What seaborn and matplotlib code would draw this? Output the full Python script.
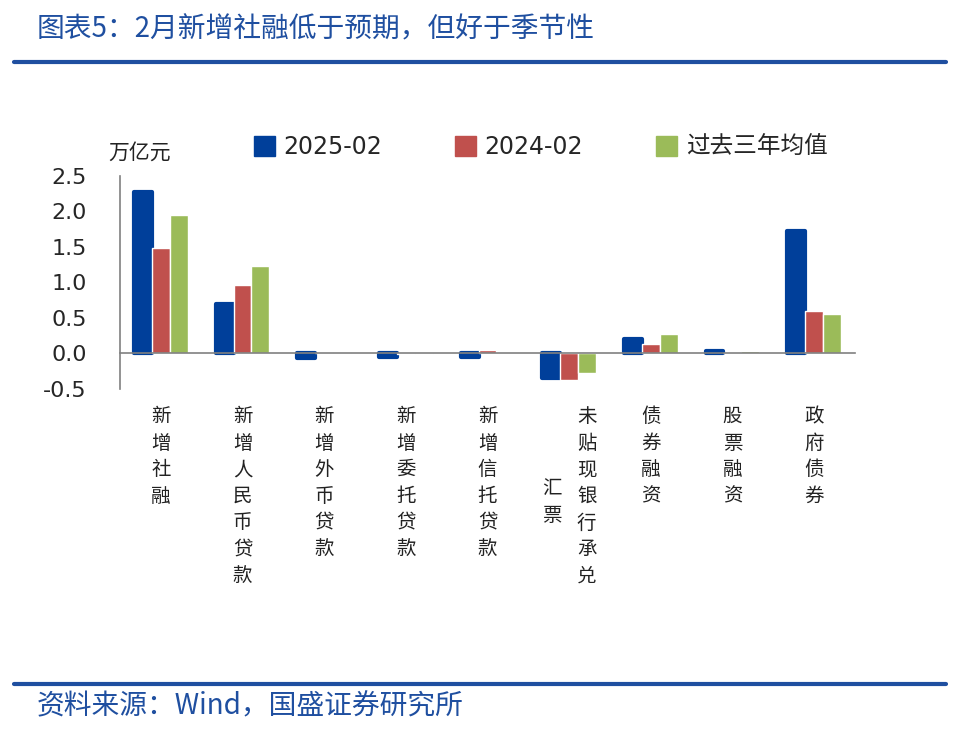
import matplotlib
matplotlib.use('Agg')
import matplotlib.pyplot as plt
import matplotlib.transforms as mtransforms
import seaborn as sns
import pandas as pd
import numpy as np

categories = ['新增社融', '新增人民币贷款', '新增外币贷款', '新增委托贷款', '新增信托贷款',
              '未贴现银行承兑汇票', '债券融资', '股票融资', '政府债券']
series = ['2025-02', '2024-02', '过去三年均值']
v2025 = [2.27, 0.69, -0.06, -0.05, -0.05, -0.34, 0.20, 0.04, 1.73]
v2024 = [1.49, 0.97, 0.00, -0.01, 0.05, -0.37, 0.14, 0.01, 0.60]
vavg = [1.95, 1.23, 0.02, -0.005, 0.00, -0.27, 0.28, 0.03, 0.56]
yticks = [-0.5, 0.0, 0.5, 1.0, 1.5, 2.0, 2.5]

colors = ['#003f9a', '#c0504d', '#9bbb59']
title_blue = '#1f4fa0'

df = pd.DataFrame({
    'cat': categories * 3,
    'series': [s for s in series for _ in categories],
    'val': v2025 + v2024 + vavg,
})

sns.set_style('white')
plt.rcParams['font.family'] = ['Noto Sans CJK SC', 'DejaVu Sans']
latin_cjk = ['DejaVu Sans', 'Noto Sans CJK SC']

fig = plt.figure(figsize=(9.6, 7.46), dpi=100)
ax = fig.add_axes([0.125, 0.4786, 0.7656, 0.2855])

sns.barplot(data=df, x='cat', y='val', hue='series', palette=colors,
            width=0.66, ax=ax, legend=False, saturation=1)

# rounded thick edge on the blue bars
for p in ax.containers[0]:
    p.set_edgecolor(colors[0])
    p.set_linewidth(3)
    p.set_joinstyle('round')

ax.set_xlim(-0.5, len(categories) - 0.5)
ax.set_ylim(-0.5, 2.5)
ax.set_yticks(yticks)
ax.set_yticklabels([f'{t:.1f}' for t in yticks], fontsize=16, family='DejaVu Sans')
ax.set_xlabel('')
ax.set_ylabel('')

for s in ['top', 'right']:
    ax.spines[s].set_visible(False)
ax.spines['bottom'].set_position(('data', 0))
ax.spines['left'].set_color('#808080')
ax.spines['bottom'].set_color('#808080')
ax.spines['left'].set_linewidth(1.2)
ax.spines['bottom'].set_linewidth(1.2)
ax.set_xticks(np.arange(len(categories) + 1) - 0.5)
ax.set_xticklabels([])
ax.tick_params(axis='x', direction='in', length=8, color='#808080', width=1.2)
ax.tick_params(axis='y', direction='in', length=7, color='#808080', width=1.2, pad=24)

# vertical category labels (columns right to left, shorter column centred)
lab_fs = 14
lab_ls = 1.35
trans = mtransforms.blended_transform_factory(ax.transData, ax.transAxes)
for i, lab in enumerate(categories):
    cols = [lab[k:k + 7] for k in range(0, len(lab), 7)]
    n = len(cols)
    longest = max(len(c) for c in cols)
    for j, c in enumerate(cols):
        dx = (n - 1) / 2 - j
        shift = (longest - len(c)) / 2 * lab_fs * lab_ls * 1.1
        tr = mtransforms.offset_copy(trans, fig=fig, x=0, y=-shift, units='points')
        ax.text(i + dx * 0.43, -0.08, '\n'.join(c), transform=tr,
                ha='center', va='top', fontsize=lab_fs, linespacing=lab_ls,
                color='#222222', fontweight='light')

ax.text(-0.016, 1.06, '万亿元', transform=ax.transAxes, fontsize=15, ha='left',
        va='bottom', color='#222222', fontweight='light')

handles = [plt.Rectangle((0, 0), 1, 1, color=c) for c in colors]
fig.legend(handles, series, loc='center left', bbox_to_anchor=(0.242, 0.803), ncol=3,
           frameon=False, prop={'family': latin_cjk, 'size': 17},
           handlelength=0.9, handleheight=0.9,
           columnspacing=3.1, handletextpad=0.35)

fig.text(0.038, 0.960, '图表5：2月新增社融低于预期，但好于季节性', fontsize=20,
         color=title_blue, ha='left', va='center', style='italic')
fig.add_artist(plt.Line2D([0.015, 0.985], [0.917, 0.917], color=title_blue, lw=3))
fig.add_artist(plt.Line2D([0.015, 0.985], [0.083, 0.083], color=title_blue, lw=3))
fig.text(0.038, 0.053, '资料来源：Wind，国盛证券研究所', fontsize=20,
         color=title_blue, ha='left', va='center', style='italic')

fig.savefig('out.png', dpi=100, facecolor='white')
